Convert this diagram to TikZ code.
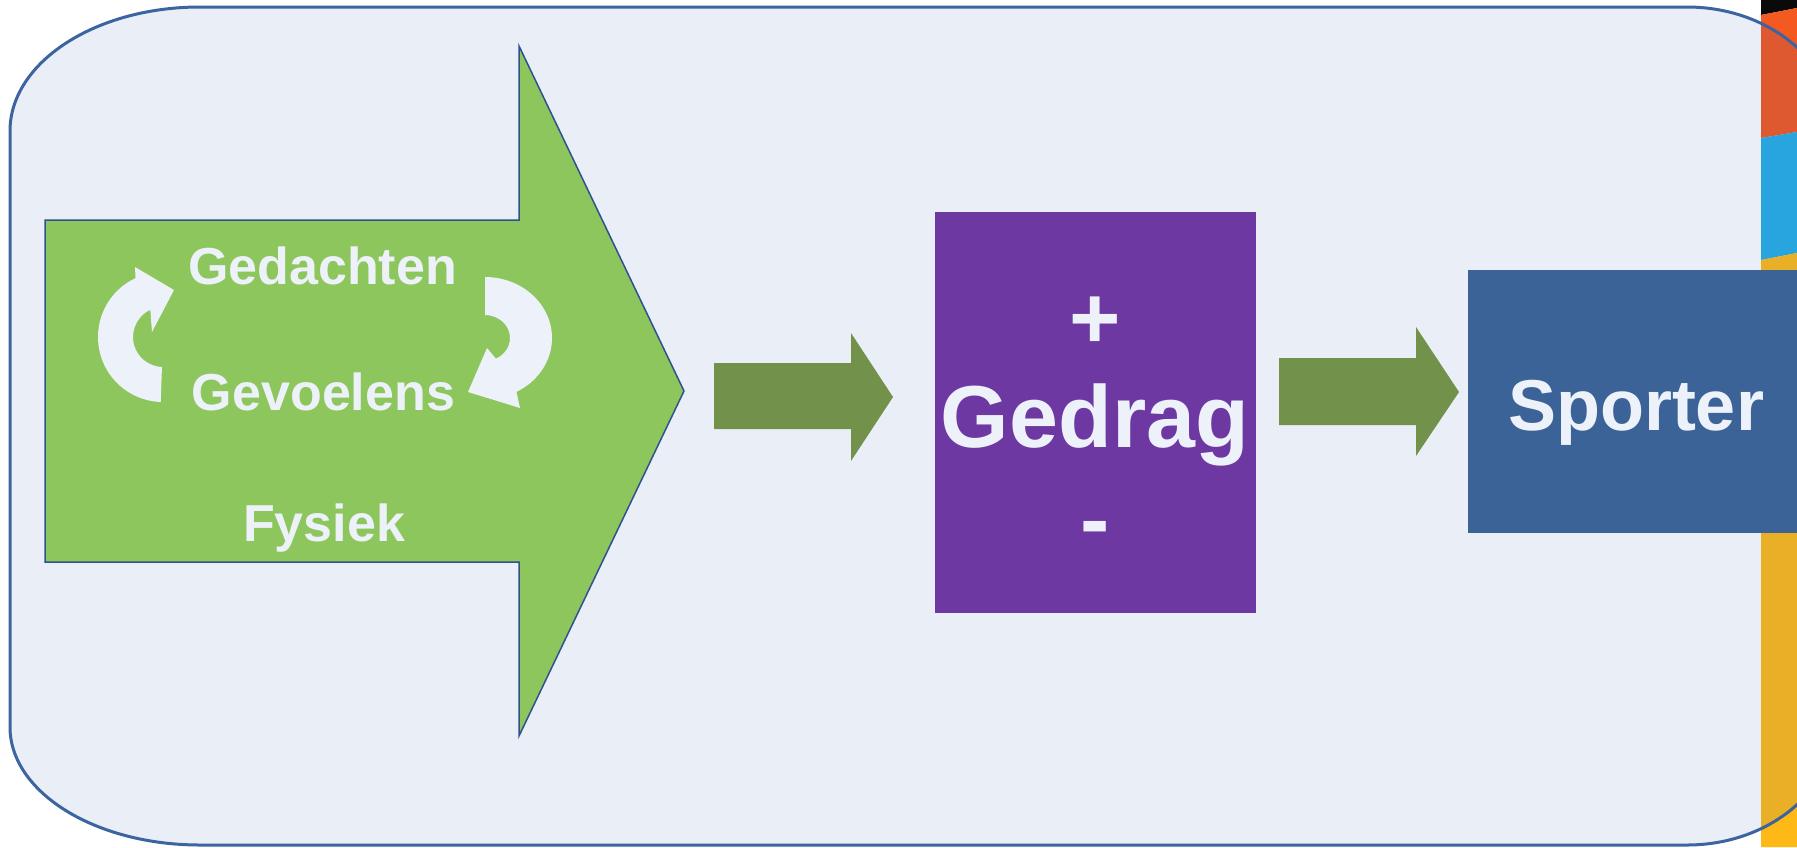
\documentclass[tikz,border=0pt]{standalone}
\usepackage{fontspec}
\setmainfont{Liberation Sans}
\definecolor{frameblue}{RGB}{59,100,160}
\definecolor{paneltint}{RGB}{45,95,185}
\definecolor{leafgreen}{RGB}{141,198,92}
\definecolor{edgeblue}{RGB}{47,82,143}
\definecolor{arrowolive}{RGB}{114,145,74}
\definecolor{gedragpurple}{RGB}{109,56,161}
\definecolor{sporterblue}{RGB}{59,99,151}
\definecolor{paleink}{RGB}{237,241,249}
\definecolor{stripeblack}{RGB}{10,10,10}
\definecolor{stripeorange}{RGB}{244,89,33}
\definecolor{stripeblue}{RGB}{40,172,228}
\definecolor{stripeyellow}{RGB}{255,185,22}
\tikzset{
  lbl/.style={text=paleink, font=\bfseries\fontsize{26}{30}\selectfont, inner sep=0pt, anchor=base},
  biglbl/.style={lbl, font=\bfseries\fontsize{44}{50}\selectfont},
  sportlbl/.style={lbl, font=\bfseries\fontsize{36}{42}\selectfont},
  blockarrow/.style={fill=arrowolive},
  cyclearrow/.style={fill=paleink},
}
\begin{document}
\begin{tikzpicture}[x=0.5pt,y=0.5pt]
\useasboundingbox (0,0) rectangle (1797,-847);
\clip (0,0) rectangle (1797,-847);
\fill[white] (0,0) rectangle (1797,-847);

% coloured strip along the right edge
\fill[stripeblack] (1761,0) -- (1797,0) -- (1797,-8) -- (1761,-15) -- cycle;
\fill[stripeorange] (1761,-15) -- (1797,-8) -- (1797,-132) -- (1761,-138) -- cycle;
\fill[stripeblue] (1761,-138) -- (1797,-132) -- (1797,-253) -- (1761,-260) -- cycle;
\fill[stripeyellow] (1761,-260) -- (1797,-253) -- (1797,-847) -- (1761,-847) -- cycle;

% rounded panel
\draw[frameblue, line width=1.5pt, fill=paneltint, fill opacity=0.1]
  (10,-131) arc[start angle=180, end angle=90, x radius=190, y radius=124]
  -- (1687,-7) arc[start angle=90, end angle=0, x radius=148, y radius=122]
  -- (1835,-723) arc[start angle=0, end angle=-90, x radius=148, y radius=122]
  -- (200,-845) arc[start angle=270, end angle=180, x radius=190, y radius=118]
  -- cycle;

% large green arrow
\draw[fill=leafgreen, draw=edgeblue, line width=0.75pt]
  (45,-220) -- (519,-220) -- (519,-46) -- (684,-391) -- (519,-736)
  -- (519,-562) -- (45,-562) -- cycle;

% circular arrows
\coordinate (c1) at (163,-337);
\fill[cyclearrow] ([shift={(268:65)}]c1) arc[start angle=268, end angle=115, radius=65]
  -- (135,-267) -- (174,-290) -- (152,-332) -- ([shift={(115:30)}]c1)
  arc[start angle=115, end angle=268, radius=30] -- cycle;
\coordinate (c2) at (485,-338);
\fill[cyclearrow] ([shift={(90:67 and 61)}]c2) arc[start angle=90, end angle=-62, x radius=67, y radius=61]
  -- (520,-408) -- (468,-392) -- (487,-348) -- ([shift={(-64:25 and 23)}]c2)
  arc[start angle=-64, end angle=90, x radius=25, y radius=23] -- cycle;

\node[lbl] (gedachten) at (322.5,-284) {Gedachten};
\node[lbl] (gevoelens) at (323.5,-410) {Gevoelens};
\node[lbl] (fysiek) at (324,-541) {Fysiek};

% block arrows
\fill[blockarrow] (714,-363) -- (851,-363) -- (851,-333) -- (893,-397)
  -- (851,-461) -- (851,-429) -- (714,-429) -- cycle;
\fill[blockarrow] (1279,-358) -- (1416,-358) -- (1416,-327) -- (1459,-392)
  -- (1416,-456) -- (1416,-425) -- (1279,-425) -- cycle;

% behaviour box
\fill[gedragpurple] (935,-212) rectangle (1256,-613);
\node[biglbl] (plus) at (1095,-348) {+};
\node[biglbl] (gedrag) at (1095,-447) {Gedrag};
\node[biglbl] (minus) at (1095,-549) {-};

% athlete box
\fill[sporterblue] (1468,-270) rectangle (1804,-533);
\node[sportlbl] (sporter) at (1636,-430) {Sporter};
\end{tikzpicture}
\end{document}
